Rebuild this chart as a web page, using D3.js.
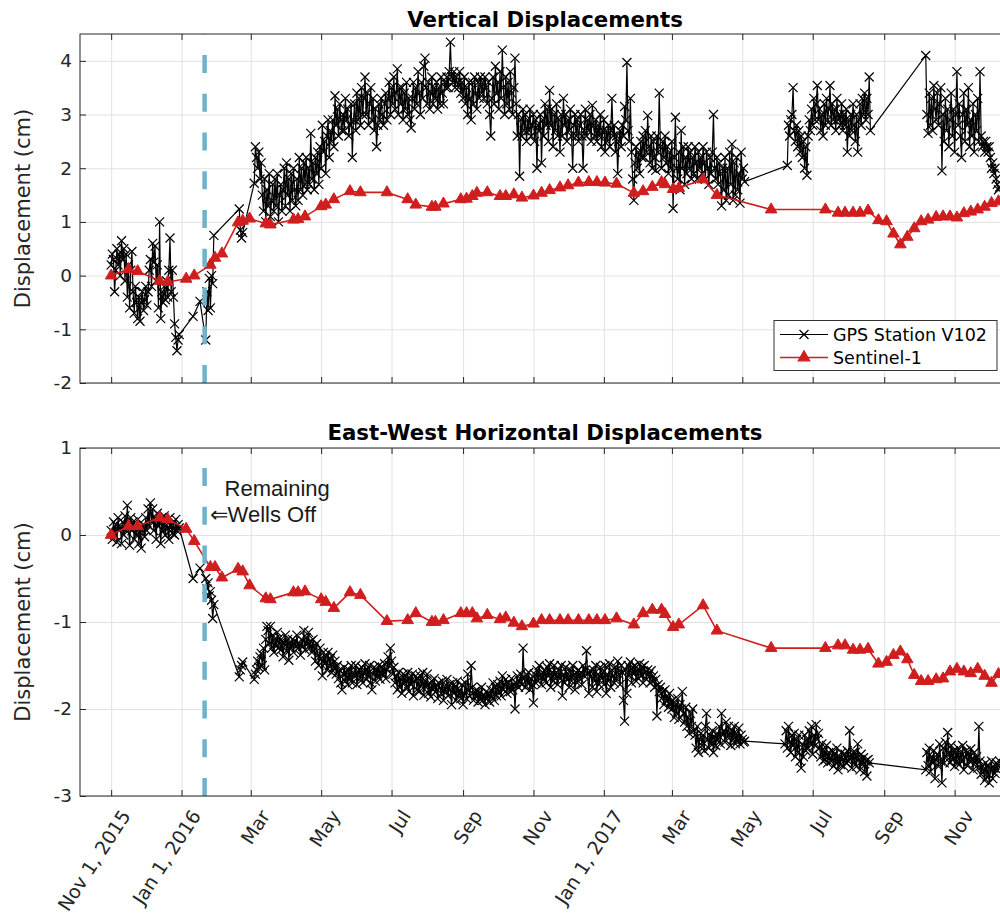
<!DOCTYPE html>
<html>
<head>
<meta charset="utf-8">
<script src="https://cdn.jsdelivr.net/npm/d3@7"></script>
<style>
  body { margin: 0; background: #fff; }
  svg { display: block; }
</style>
</head>
<body>
<div id="chart"></div>
<script>
// x axis ticks
const xTickDates = ['2015-11-01', '2016-01-01', '2016-03-01', '2016-05-01', '2016-07-01', '2016-09-01',
  '2016-11-01', '2017-01-01', '2017-03-01', '2017-05-01', '2017-07-01', '2017-09-01', '2017-11-01'];
const xTickLabels = ['Nov 1, 2015', 'Jan 1, 2016', 'Mar', 'May', 'Jul', 'Sep',
  'Nov', 'Jan 1, 2017', 'Mar', 'May', 'Jul', 'Sep', 'Nov'];
const verticalTicks = [-2, -1, 0, 1, 2, 3, 4];
const horizontalTicks = [-3, -2, -1, 0, 1];
const wellsOffDate = '2016-01-21';

// Sentinel-1 acquisitions, days after Nov 1, 2015
const s1Origin = '2015-11-01';
const s1Days = [0, 15, 23, 42, 49, 65, 72, 86, 90, 96,
  110, 114, 120, 134, 138, 158, 162, 168, 182, 186,
  193, 207, 216, 239, 257, 264, 278, 281, 288, 303,
  308, 313, 317, 326, 337, 342, 349, 356, 366, 373,
  380, 389, 396, 405, 414, 421, 428, 438, 453, 461,
  469, 477, 480, 487, 492, 513, 525, 572,
  619, 630, 636, 643, 649, 656, 665, 672, 678, 684, 690, 696,
  702, 708, 715, 721, 727, 733, 739, 745, 751, 757, 763, 769];
const s1Vertical = [0.0, 0.12, 0.08, -0.1, -0.12, -0.06, 0.0, 0.2, 0.33, 0.41,
  0.99, 1.02, 1.06, 0.97, 0.95, 1.04, 1.05, 1.1, 1.29, 1.32,
  1.42, 1.57, 1.55, 1.55, 1.42, 1.32, 1.28, 1.28, 1.34, 1.42,
  1.43, 1.48, 1.54, 1.55, 1.48, 1.48, 1.51, 1.45, 1.49, 1.54,
  1.59, 1.64, 1.68, 1.73, 1.74, 1.74, 1.73, 1.71, 1.54, 1.57,
  1.65, 1.74, 1.7, 1.61, 1.63, 1.79, 1.5, 1.23,
  1.23, 1.17, 1.17, 1.17, 1.17, 1.21, 1.03, 1.01, 0.78, 0.58, 0.72, 0.88,
  1.01, 1.04, 1.09, 1.1, 1.1, 1.08, 1.16, 1.19, 1.23, 1.28, 1.35, 1.38];
const s1Horizontal = [0.0, 0.1, 0.1, 0.2, 0.18, 0.07, -0.07, -0.37, -0.37, -0.49,
  -0.39, -0.42, -0.58, -0.73, -0.74, -0.66, -0.66, -0.65, -0.74, -0.77,
  -0.84, -0.66, -0.69, -0.99, -0.98, -0.9, -1.0, -1.0, -0.98, -0.9,
  -0.9, -0.9, -0.96, -0.92, -0.97, -0.95, -1.01, -1.05, -1.02, -0.98,
  -0.98, -0.98, -0.98, -0.98, -0.98, -0.98, -0.98, -0.96, -1.03, -0.9,
  -0.86, -0.86, -0.91, -1.06, -1.03, -0.81, -1.1, -1.3,
  -1.3, -1.27, -1.27, -1.32, -1.32, -1.31, -1.48, -1.46, -1.38, -1.34, -1.43, -1.61,
  -1.68, -1.68, -1.66, -1.65, -1.57, -1.54, -1.57, -1.59, -1.54, -1.62, -1.7, -1.6];

// GPS station V102, daily solutions in runs (first day of each run)
const gpsVerticalStarts = ['2015-11-01', '2016-01-11', '2016-01-17', '2016-01-22', '2016-02-20',
  '2016-03-04', '2017-06-09', '2017-10-07'];
const gpsVertical = [
  [0.2, 0.4, 0.3, -0.3, 0.1, 0.5, 0.2, 0.4, 0.0, 0.65,
   0.3, 0.5, -0.1, 0.4, -0.4, 0.2, -0.6, 0.1, 0.45, -0.3,
   -0.7, -0.2, -0.5, -0.8, -0.4, -0.85, -0.5, -0.3, -0.65, -0.45,
   -0.2, -0.55, -0.3, 0.1, 0.3, -0.2, 0.6, 0.25, 0.55, -0.1,
   0.2, -0.6, 1.0, -0.8, -0.3, -0.5, -0.2, -0.45, -0.1, -0.4,
   0.1, 0.7, -0.3, 0.1, -0.4, -0.9, -1.15, -1.4, -1.2, -1.1],
  [-0.76],
  [-0.48],
  [-1.2, -0.3, -0.65, -0.05, -0.6, 0.0, -0.15, 0.75],
  [1.24, 0.85, 0.7, 0.8],
  [1.72, 2.4, 2.2, 2.0, 2.3, 1.8, 2.1,
   1.5, 1.2, 1.8, 1.0, 1.6, 1.3, 1.9, 1.1, 1.4, 1.7,
   1.2, 1.8, 1.3, 1.9, 1.0, 1.5, 1.7, 1.2, 1.6, 2.0,
   1.3, 2.1, 1.5, 1.8, 1.2, 1.9, 1.4, 2.0, 1.6, 1.3,
   1.8, 1.4, 2.2, 1.6, 2.0, 1.5, 2.1, 1.7, 2.2, 1.6,
   2.0, 1.7, 2.65, 1.8, 2.1, 1.6, 2.2, 1.9, 2.3, 1.7,
   2.4, 2.0, 2.8, 2.3, 2.5, 1.9, 2.6, 2.9, 2.2, 2.7,
   2.5, 2.9, 2.4, 3.35, 2.8, 3.1, 2.6, 3.2, 2.9, 2.7,
   3.0, 2.7, 3.3, 2.9, 3.1, 2.6, 2.8, 3.2, 2.2, 2.9,
   3.2, 2.7, 3.4, 2.9, 3.3, 2.8, 3.5, 3.0, 3.3, 3.7,
   3.0, 3.4, 2.8, 3.2, 3.5, 2.9, 3.3, 2.7, 3.1, 2.4,
   2.8, 3.2, 2.9, 3.3, 3.0, 2.8, 3.2, 3.4, 2.9, 3.3,
   3.6, 3.0, 3.5, 3.2, 3.7, 3.1, 3.4, 3.85, 3.0, 3.5,
   3.2, 3.5, 2.9, 3.4, 3.1, 3.6, 3.0, 3.3, 2.9, 2.75,
   3.3, 3.6, 3.1, 3.5, 3.2, 3.8, 3.4, 3.0, 3.6, 3.3,
   3.9, 4.05, 3.5, 3.2, 3.6, 3.1, 3.4, 3.7, 3.2, 3.5,
   3.3, 3.6, 3.1, 3.5, 3.2, 3.7, 3.4, 3.2, 3.6, 3.5,
   3.7, 3.5, 3.8, 4.35, 3.7, 3.6, 3.8, 3.5, 3.7, 3.6,
   3.5, 3.8, 3.4, 3.6, 3.3, 3.7, 3.2, 3.5, 3.0, 3.6,
   3.3, 2.9, 3.6, 3.2, 3.7, 3.4, 3.1, 3.6, 3.3, 3.7,
   3.4, 3.6, 3.3, 3.7, 3.5, 3.2, 3.6, 3.0, 2.6, 3.3,
   3.7, 3.2, 3.9, 3.4, 3.6, 3.1, 3.8, 3.3, 4.2, 3.5,
   3.0, 3.7, 3.2, 3.6, 3.1, 3.8, 3.4, 3.0, 3.5, 4.05,
   3.2, 2.6, 3.0, 1.85, 2.9, 2.6, 3.1, 2.7, 3.0, 2.5,
   2.9, 2.7, 3.1, 2.6, 2.8, 3.0, 2.5, 2.9, 2.0, 2.8,
   2.7, 3.0, 2.1, 2.9, 2.6, 3.2, 2.8, 3.1, 2.5, 3.45,
   2.8, 3.1, 2.4, 3.0, 2.7, 3.2, 2.6, 2.9, 2.3, 3.0,
   2.6, 3.3, 2.8, 3.0, 2.5, 2.9, 2.7, 3.1, 2.6, 2.0,
   2.8, 3.0, 2.6, 2.9, 2.5, 2.8, 3.0, 2.6, 2.0, 2.7,
   3.1, 2.6, 2.9, 2.7, 3.0, 2.5, 3.17, 2.8, 2.6, 2.9,
   2.5, 2.8, 2.6, 3.0, 2.4, 2.7, 2.9, 2.3, 2.7, 2.5,
   2.8, 2.4, 2.7, 3.3, 2.6, 2.8, 2.3, 2.6, 1.9, 2.5,
   2.7, 2.4, 2.8, 2.6, 3.15, 2.9, 3.97, 2.7, 2.5, 3.3,
   2.3, 1.8, 1.4, 2.1, 2.4, 2.0, 2.3, 1.9, 2.5, 2.2,
   2.6, 2.2, 2.7, 2.3, 2.98, 2.4, 2.1, 2.6, 2.0, 2.5,
   2.2, 1.96, 2.6, 2.3, 3.4, 2.4, 2.0, 2.5, 2.2, 2.6,
   2.1, 2.4, 1.9, 2.3, 2.0, 2.5, 1.25, 2.2, 2.95, 2.0,
   1.8, 2.3, 1.6, 2.7, 2.0, 2.4, 1.7, 2.2, 1.9, 2.4,
   2.0, 2.3, 1.8, 2.2, 1.9, 2.4, 2.1, 1.8, 2.3, 2.0,
   2.2, 1.9, 2.4, 2.1, 1.8, 2.3, 2.0, 1.7, 2.2, 1.9,
   2.3, 3.0, 2.0, 1.8, 2.2, 1.7, 2.1, 1.9, 1.3, 2.0,
   1.6, 2.2, 1.4, 2.0, 1.5, 2.3, 1.7, 2.45, 1.4, 2.1,
   1.5, 2.2, 1.6, 1.9, 1.35, 2.3, 1.8, 2.0, 1.75],
  [2.05, 2.8, 2.6, 2.9, 3.0, 3.5, 2.7, 2.5, 2.8, 2.4,
   2.7, 2.3, 2.6, 2.2, 2.5, 2.0, 2.4, 1.87, 2.6, 2.9,
   2.7, 3.1, 2.8, 3.3, 2.9, 3.2, 3.54, 2.9, 3.1, 2.7,
   3.0, 2.6, 3.2, 2.8, 3.3, 2.9, 3.1, 3.54, 2.8, 3.2,
   2.9, 3.1, 2.7, 3.3, 2.9, 3.0, 2.8, 3.2, 2.7, 3.0,
   2.8, 3.1, 2.3, 2.9, 2.6, 3.0, 2.7, 3.2, 2.8, 2.5,
   3.0, 2.3, 2.9, 3.2, 2.8, 3.3, 3.0, 3.4, 2.9, 3.3, 3.0, 3.7, 2.7],
  [4.1, 3.0, 2.65, 3.4, 2.8, 3.3, 2.7, 3.54, 3.1, 2.9,
   3.4, 2.8, 3.2, 3.5, 1.95, 3.0, 2.5, 3.3, 2.7, 3.1,
   2.4, 2.9, 3.4, 2.6, 3.1, 2.3, 3.0, 3.8, 2.8, 3.2,
   2.6, 2.2, 3.0, 3.4, 2.5, 3.1, 2.8, 3.5, 2.4, 2.9,
   2.6, 3.2, 2.3, 3.0, 2.7, 3.3, 2.5, 3.8, 2.6, 2.4,
   2.5, 2.3, 2.5, 2.4, 2.3, 2.4, 2.2, 2.0, 2.1, 1.9,
   2.0, 1.8, 1.7, 1.6, 1.65]
];

const gpsHorizontalStarts = ['2015-11-01', '2016-01-11', '2016-01-17', '2016-01-22', '2016-02-20',
  '2016-03-04', '2017-06-07', '2017-10-07'];
const gpsHorizontal = [
  [0.05, -0.05, 0.15, 0.0, 0.12, -0.08, 0.2, 0.05, 0.1, -0.1,
   0.15, 0.0, 0.22, 0.05, 0.34, 0.1, -0.12, 0.2, 0.05, 0.15,
   -0.05, 0.1, 0.0, 0.18, -0.1, 0.08, -0.15, 0.05, 0.12, -0.02,
   0.2, 0.05, 0.3, 0.1, 0.37, 0.15, 0.3, 0.05, 0.2, -0.05,
   0.25, 0.1, 0.15, -0.1, 0.2, 0.05, 0.22, 0.0, 0.12, 0.08,
   -0.05, 0.2, 0.1, 0.02, 0.15, 0.0, 0.18, 0.05, 0.12, 0.08],
  [-0.5],
  [-0.38],
  [-0.5, -0.62, -0.55, -0.7, -0.65, -0.75, -0.96, -0.8],
  [-1.63, -1.55, -1.5, -1.46],
  [-1.66, -1.6,
   -1.55, -1.45, -1.52, -1.4, -1.36, -1.5, -1.3, -1.55, -1.2, -1.05,
   -1.1, -1.25, -1.05, -1.3, -1.15, -1.35, -1.2, -1.28, -1.12, -1.3,
   -1.18, -1.32, -1.22, -1.4, -1.25, -1.15, -1.33, -1.2, -1.44, -1.25,
   -1.3, -1.2, -1.35, -1.22, -1.28, -1.15, -1.3, -1.25, -1.38, -1.2,
   -1.28, -1.1, -1.32, -1.18, -1.25, -1.12, -1.3, -1.22, -1.35, -1.2,
   -1.3, -1.45, -1.25, -1.38, -1.5, -1.3, -1.42, -1.62, -1.35, -1.48,
   -1.4, -1.55, -1.35, -1.5, -1.42, -1.58, -1.38, -1.52, -1.45, -1.6,
   -1.5, -1.65, -1.55, -1.7, -1.78, -1.6, -1.52, -1.68, -1.58, -1.72,
   -1.55, -1.65, -1.5, -1.7, -1.58, -1.62, -1.5, -1.72, -1.6, -1.55,
   -1.65, -1.52, -1.7, -1.58, -1.48, -1.66, -1.55, -1.62, -1.5, -1.7,
   -1.78, -1.6, -1.52, -1.68, -1.55, -1.62, -1.5, -1.66, -1.58, -1.52,
   -1.6, -1.48, -1.65, -1.55, -1.4, -1.5, -1.3, -1.45, -1.6, -1.52,
   -1.7, -1.62, -1.78, -1.58, -1.75, -1.65, -1.82, -1.6, -1.7, -1.62,
   -1.75, -1.58, -1.8, -1.65, -1.72, -1.6, -1.85, -1.68, -1.62, -1.78,
   -1.65, -1.8, -1.62, -1.74, -1.58, -1.84, -1.68, -1.75, -1.6, -1.82,
   -1.7, -1.86, -1.68, -1.78, -1.65, -1.8, -1.72, -1.88, -1.7, -1.76,
   -1.82, -1.68, -1.9, -1.74, -1.8, -1.66, -1.85, -1.72, -1.78, -1.95,
   -1.7, -1.82, -1.75, -1.9, -1.68, -1.85, -1.78, -1.88, -1.72, -1.95,
   -1.82, -1.7, -1.88, -1.6, -1.78, -1.85, -1.5, -1.75, -1.9, -1.8,
   -1.85, -1.78, -1.92, -1.82, -1.88, -1.75, -1.9, -1.84, -1.95, -1.8,
   -1.88, -1.82, -1.92, -1.78, -1.86, -1.7, -1.9, -1.75, -1.85, -1.72,
   -1.8, -1.68, -1.85, -1.62, -1.78, -1.72, -1.66, -1.82, -1.7, -1.75,
   -1.8, -1.65, -1.78, -1.72, -2.0, -1.7, -1.62, -1.75, -1.68, -1.6,
   -1.72, -1.3, -1.65, -1.75, -1.6, -1.7, -1.58, -1.78, -1.66, -1.72,
   -1.93, -1.6, -1.7, -1.55, -1.68, -1.5, -1.62, -1.72, -1.58, -1.65,
   -1.55, -1.7, -1.52, -1.62, -1.48, -1.75, -1.58, -1.68, -1.5, -1.65,
   -1.58, -1.72, -1.55, -1.65, -1.5, -1.85, -1.6, -1.7, -1.52, -1.66,
   -1.6, -1.75, -1.55, -1.68, -1.5, -1.62, -1.78, -1.58, -1.7, -1.55,
   -1.65, -1.58, -1.72, -1.5, -1.62, -1.55, -1.33, -1.6, -1.82, -1.56,
   -1.62, -1.75, -1.55, -1.68, -1.5, -1.8, -1.6, -1.72, -1.52, -1.65,
   -1.58, -1.72, -1.5, -1.82, -1.6, -1.68, -1.48, -1.75, -1.55, -1.62,
   -1.7, -1.52, -1.65, -1.45, -1.6, -1.72, -1.5, -1.58, -1.9, -2.14,
   -1.55, -1.82, -1.5, -1.62, -1.46, -1.7, -1.52, -1.6, -1.5, -1.68,
   -1.55, -1.65, -1.48, -1.62, -1.52, -1.7, -1.5, -1.58, -1.66, -1.55,
   -1.6, -1.7, -1.56, -1.68, -1.62, -1.75, -1.66, -2.08, -1.72, -1.8,
   -1.75, -1.88, -1.8, -1.95, -1.78, -1.9, -1.85, -1.98, -1.82, -1.92,
   -2.0, -1.9, -2.1, -1.95, -2.05, -1.88, -2.12, -1.95, -2.0, -1.8,
   -2.05, -2.15, -1.98, -2.2, -2.1, -2.28, -2.05, -2.2, -2.0, -2.25,
   -2.3, -2.45, -2.2, -2.5, -2.35, -2.28, -2.42, -2.3, -2.48, -2.2,
   -2.05, -2.35, -2.45, -2.3, -2.4, -2.25, -2.5, -2.32, -2.42, -2.28,
   -2.35, -2.2, -2.4, -2.05, -2.3, -2.25, -2.38, -2.15, -2.32, -2.2,
   -2.3, -2.42, -2.25, -2.35, -2.2, -2.4, -2.28, -2.36, -2.22, -2.4, -2.3, -2.35, -2.38, -2.37],
  [-2.4, -2.25, -2.45, -2.2, -2.38, -2.5, -2.3, -2.42, -2.28, -2.55,
   -2.35, -2.5, -2.3, -2.6, -2.68, -2.4, -2.55, -2.3, -2.48, -2.35,
   -2.45, -2.25, -2.4, -2.2, -2.52, -2.3, -2.42, -2.18, -2.35, -2.28,
   -2.45, -2.55, -2.4, -2.6, -2.48, -2.58, -2.42, -2.62, -2.5, -2.56,
   -2.6, -2.48, -2.66, -2.52, -2.62, -2.45, -2.7, -2.55, -2.64, -2.5,
   -2.58, -2.66, -2.52, -2.62, -2.48, -2.6, -2.25, -2.55, -2.68, -2.5,
   -2.62, -2.5, -2.66, -2.4, -2.58, -2.7, -2.52, -2.64, -2.56, -2.72, -2.6, -2.77, -2.58, -2.62],
  [-2.7,
   -2.5, -2.65, -2.45, -2.72, -2.55, -2.62, -2.48, -2.8, -2.58,
   -2.52, -2.66, -2.4, -2.6, -2.85, -2.45, -2.62, -2.38, -2.55, -2.27,
   -2.5, -2.62, -2.42, -2.58, -2.48, -2.66, -2.5, -2.6, -2.45, -2.64,
   -2.5, -2.6, -2.42, -2.7, -2.55, -2.48, -2.65, -2.52, -2.6, -2.46,
   -2.58, -2.7, -2.5, -2.62, -2.55, -2.68, -2.2, -2.6, -2.75, -2.65,
   -2.7, -2.82, -2.62, -2.78, -2.66, -2.85, -2.7, -2.6, -2.8, -2.68, -2.74, -2.62, -2.7, -2.65, -2.6]
];

const dimension = {
  width: 1000,
  height: 916,
  left: 80,
  right: 1010
};

const axisColor = '#262626';
const gridColor = '#e2e2e2';
const gpsColor = '#000000';
const s1Color = '#d01e1e';
const wellsColor = '#6db3c9';
const font = "'DejaVu Sans', Verdana, sans-serif";
const xMarker = 'M-4.5,-4.5L4.5,4.5M-4.5,4.5L4.5,-4.5';

const parseDate = d3.timeParse('%Y-%m-%d');

// flatten daily runs into one series (MATLAB joins across the gaps)
const runsToPoints = (starts, runs) =>
  runs.flatMap((vals, r) => vals.map((v, i) => ({ date: d3.timeDay.offset(parseDate(starts[r]), i), value: v })));

const s1Points = values => s1Days.map((d, i) => ({ date: d3.timeDay.offset(parseDate(s1Origin), d), value: values[i] }));

const drawChart = () => {
  const svg = d3.select('#chart')
    .append('svg')
    .attr('width', dimension.width)
    .attr('height', dimension.height)
    .style('font-family', font);

  const xScale = d3.scaleTime()
    .domain([parseDate('2015-10-05'), parseDate('2017-12-19')])
    .range([dimension.left, dimension.right]);

  const tickDates = xTickDates.map(parseDate);
  const plotWidth = dimension.right - dimension.left;

  const drawPanel = (p) => {
    const h = p.bottom - p.top;
    const yScale = d3.scaleLinear().domain(p.domain).range([p.bottom, p.top]);
    const ctr = svg.append('g');

    ctr.append('rect')
      .attr('x', dimension.left).attr('y', p.top)
      .attr('width', plotWidth).attr('height', h)
      .attr('fill', '#fff');

    // grid
    ctr.append('g')
      .attr('transform', `translate(0,${p.bottom})`)
      .call(d3.axisBottom(xScale).tickValues(tickDates).tickSize(-h).tickFormat(''))
      .call(g => g.select('.domain').remove())
      .call(g => g.selectAll('line').attr('stroke', gridColor));
    ctr.append('g')
      .attr('transform', `translate(${dimension.left},0)`)
      .call(d3.axisLeft(yScale).tickValues(p.ticks).tickSize(-plotWidth).tickFormat(''))
      .call(g => g.select('.domain').remove())
      .call(g => g.selectAll('line').attr('stroke', gridColor));

    // data
    const clipId = `clip-${p.name}`;
    svg.append('clipPath').attr('id', clipId)
      .append('rect')
      .attr('x', dimension.left).attr('y', p.top)
      .attr('width', plotWidth).attr('height', h);

    const plot = ctr.append('g').attr('clip-path', `url(#${clipId})`);
    const line = d3.line().x(d => xScale(d.date)).y(d => yScale(d.value));

    plot.append('path')
      .datum(p.gps)
      .attr('d', line)
      .attr('fill', 'none')
      .attr('stroke', gpsColor)
      .attr('stroke-width', 1.2);

    plot.selectAll('path.gps-x')
      .data(p.gps)
      .join('path')
      .attr('class', 'gps-x')
      .attr('transform', d => `translate(${xScale(d.date)},${yScale(d.value)})`)
      .attr('d', xMarker)
      .attr('stroke', gpsColor)
      .attr('stroke-width', 1.2);

    plot.append('path')
      .datum(p.s1)
      .attr('d', line)
      .attr('fill', 'none')
      .attr('stroke', s1Color)
      .attr('stroke-width', 1.6);

    plot.selectAll('path.s1-tri')
      .data(p.s1)
      .join('path')
      .attr('class', 's1-tri')
      .attr('transform', d => `translate(${xScale(d.date)},${yScale(d.value)})`)
      .attr('d', d3.symbol(d3.symbolTriangle, 58))
      .attr('fill', s1Color)
      .attr('stroke', s1Color)
      .attr('stroke-width', 1);

    // wells-off marker, dashes laid out from the bottom edge
    const xw = xScale(parseDate(wellsOffDate));
    ctr.append('line')
      .attr('x1', xw).attr('x2', xw)
      .attr('y1', p.bottom).attr('y2', p.top)
      .attr('stroke', wellsColor)
      .attr('stroke-width', 4.5)
      .attr('stroke-dasharray', '18,20.75');

    // box + inward ticks
    ctr.append('rect')
      .attr('x', dimension.left).attr('y', p.top)
      .attr('width', plotWidth).attr('height', h)
      .attr('fill', 'none')
      .attr('stroke', axisColor)
      .attr('stroke-width', 1);

    ctr.append('g')
      .attr('transform', `translate(0,${p.top})`)
      .call(d3.axisTop(xScale).tickValues(tickDates).tickSize(-6).tickFormat(''))
      .call(g => g.select('.domain').remove())
      .call(g => g.selectAll('line').attr('stroke', axisColor));

    const xAxis = ctr.append('g')
      .attr('transform', `translate(0,${p.bottom})`)
      .call(d3.axisBottom(xScale).tickValues(tickDates).tickSize(-6)
        .tickFormat((d, i) => p.xLabels ? xTickLabels[i] : ''))
      .call(g => g.select('.domain').remove())
      .call(g => g.selectAll('line').attr('stroke', axisColor));

    if (p.xLabels) {
      xAxis.selectAll('text')
        .attr('y', 0)
        .attr('dy', '0.35em')
        .attr('text-anchor', 'end')
        .attr('transform', 'translate(14,16) rotate(-57)')
        .attr('fill', axisColor)
        .style('font-family', font)
        .style('font-size', '19px');
    }

    // plain hyphen for negatives, like the original
    ctr.append('g')
      .attr('transform', `translate(${dimension.left},0)`)
      .call(d3.axisLeft(yScale).tickValues(p.ticks).tickSize(-6).tickPadding(8).tickFormat(d => String(d)))
      .call(g => g.select('.domain').remove())
      .call(g => g.selectAll('line').attr('stroke', axisColor))
      .call(g => g.selectAll('text')
        .attr('fill', axisColor)
        .style('font-family', font)
        .style('font-size', '18.5px'));

    // labels
    ctr.append('text')
      .attr('transform', `translate(30,${(p.top + p.bottom) / 2}) rotate(-90)`)
      .attr('text-anchor', 'middle')
      .attr('fill', axisColor)
      .style('font-size', '21px')
      .text('Displacement (cm)');

    ctr.append('text')
      .attr('x', (dimension.left + dimension.right) / 2)
      .attr('y', p.titleY)
      .attr('text-anchor', 'middle')
      .attr('fill', '#000')
      .style('font-size', '21.3px')
      .style('font-weight', 'bold')
      .text(p.title);

    return { yScale, ctr, xw };
  };

  const top = drawPanel({
    name: 'vertical',
    top: 34,
    bottom: 383,
    domain: [-2, 4.5],
    ticks: verticalTicks,
    title: 'Vertical Displacements',
    titleY: 27,
    gps: runsToPoints(gpsVerticalStarts, gpsVertical),
    s1: s1Points(s1Vertical),
    xLabels: false
  });

  const bottom = drawPanel({
    name: 'horizontal',
    top: 448,
    bottom: 796,
    domain: [-3, 1],
    ticks: horizontalTicks,
    title: 'East-West Horizontal Displacements',
    titleY: 440,
    gps: runsToPoints(gpsHorizontalStarts, gpsHorizontal),
    s1: s1Points(s1Horizontal),
    xLabels: true
  });

  // legend (top panel, lower right)
  const lg = top.ctr.append('g').attr('transform', 'translate(774,320.5)');
  lg.append('rect')
    .attr('width', 223).attr('height', 50)
    .attr('fill', '#fff')
    .attr('stroke', '#333')
    .attr('stroke-width', 1);
  const entries = [
    { label: 'GPS Station V102', color: gpsColor, marker: 'x', width: 1.2 },
    { label: 'Sentinel-1', color: s1Color, marker: 'tri', width: 1.6 }
  ];
  entries.forEach((e, i) => {
    const cy = 14 + i * 23;
    lg.append('line')
      .attr('x1', 6).attr('x2', 54).attr('y1', cy).attr('y2', cy)
      .attr('stroke', e.color).attr('stroke-width', e.width);
    lg.append('path')
      .attr('transform', `translate(30,${cy})`)
      .attr('d', e.marker === 'x' ? xMarker : d3.symbol(d3.symbolTriangle, 58)())
      .attr('fill', e.marker === 'x' ? 'none' : e.color)
      .attr('stroke', e.color)
      .attr('stroke-width', 1.2);
    lg.append('text')
      .attr('x', 59).attr('y', cy)
      .attr('dy', '0.35em')
      .attr('fill', '#000')
      .style('font-size', '17.5px')
      .text(e.label);
  });

  // annotation in the lower panel
  const note = bottom.ctr.append('text')
    .attr('fill', '#1a1a1a')
    .style('font-family', "'Liberation Sans', Arial, sans-serif")
    .style('font-size', '22px');
  note.append('tspan')
    .attr('x', bottom.xw + 20).attr('y', bottom.yScale(0.45))
    .text('Remaining');
  note.append('tspan')
    .attr('x', bottom.xw + 5).attr('y', bottom.yScale(0.155))
    .text('\u21D0Wells Off');
};

drawChart();
</script>
</body>
</html>
